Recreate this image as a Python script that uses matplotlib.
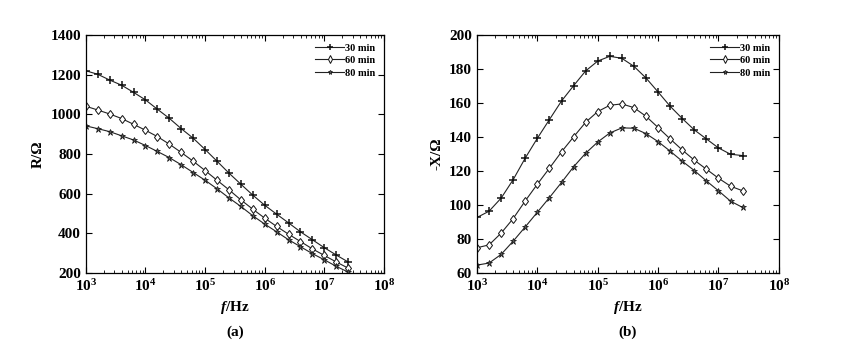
import numpy as np
import matplotlib
matplotlib.use('Agg')
import matplotlib.pyplot as plt
from matplotlib.ticker import LogLocator, FuncFormatter, MultipleLocator

plt.rcParams['font.family'] = 'Liberation Serif'
plt.rcParams['font.weight'] = 'bold'
plt.rcParams['mathtext.fontset'] = 'custom'
plt.rcParams['mathtext.rm'] = 'Liberation Serif:bold'
plt.rcParams['mathtext.bf'] = 'Liberation Serif:bold'
plt.rcParams['mathtext.it'] = 'Liberation Serif:bold:italic'

# frequency sweep, 5 points per decade from 1 kHz
freq_exp = [3.0, 3.2, 3.4, 3.6, 3.8, 4.0, 4.2, 4.4, 4.6, 4.8, 5.0, 5.2,
            5.4, 5.6, 5.8, 6.0, 6.2, 6.4, 6.6, 6.8, 7.0, 7.2, 7.4]
freq = [10 ** e for e in freq_exp]

labels = ['30 min', '60 min', '80 min']

# resistance R (ohm)
r_30 = [1220, 1202, 1173, 1147, 1111, 1073, 1026, 980, 928, 880, 823, 764,
        704, 648, 593, 542, 497, 453, 408, 368, 328, 291, 256]
r_60 = [1041, 1022, 1002, 979, 950, 920, 888, 850, 808, 764, 717, 668,
        620, 569, 522, 477, 435, 396, 359, 322, 289, 256, 225]
r_80 = [942, 928, 913, 892, 871, 843, 813, 782, 746, 707, 668, 625,
        579, 536, 489, 447, 408, 368, 333, 298, 267, 234, 205]

# reactance -X (ohm)
x_30 = [92.7, 96.4, 104.1, 115.0, 127.7, 139.3, 150.3, 161.2, 170.2, 178.9,
        184.7, 187.5, 186.3, 181.6, 174.7, 166.5, 158.1, 150.9, 144.2, 138.9,
        133.6, 129.9, 129.1]
x_60 = [74.9, 76.6, 83.5, 92.1, 102.5, 112.3, 121.7, 131.3, 140.1, 148.7,
        155.0, 158.7, 159.5, 157.3, 152.2, 145.6, 138.9, 132.4, 126.4, 121.1,
        115.8, 111.1, 108.4]
x_80 = [64.7, 65.9, 71.0, 78.8, 87.2, 95.8, 104.4, 113.3, 122.5, 130.5,
        137.1, 142.4, 145.4, 145.2, 142.0, 137.3, 131.7, 125.8, 120.3, 114.2,
        108.4, 102.3, 98.6]

styles = [dict(marker='+', ms=5.5, mew=1.1, mfc='k'),
          dict(marker='d', ms=4.5, mew=0.7, mfc='white'),
          dict(marker='*', ms=4.5, mew=0.5, mfc='#555555')]

fig = plt.figure(figsize=(8.42, 3.47), dpi=100)
ax1 = fig.add_axes([0.102, 0.213, 0.354, 0.686])
ax2 = fig.add_axes([0.5665, 0.213, 0.3585, 0.686])


def style_axis(ax, ylim, ystep, ylabel, tag):
    ax.set_xscale('log')
    ax.set_xlim(1e3, 1e8)
    ax.set_ylim(*ylim)
    ax.yaxis.set_major_locator(MultipleLocator(ystep))
    ax.xaxis.set_major_locator(LogLocator(base=10, numticks=10))
    ax.xaxis.set_minor_locator(LogLocator(base=10, subs=np.arange(2, 10), numticks=20))
    ax.xaxis.set_major_formatter(FuncFormatter(lambda v, p: r'$10^{%d}$' % round(np.log10(v))))
    ax.tick_params(which='both', direction='in', top=True, right=True, labelsize=11)
    ax.tick_params(which='major', length=4, width=0.8)
    ax.tick_params(which='minor', length=2, width=0.6)
    for s in ax.spines.values():
        s.set_linewidth(0.9)
    ax.set_ylabel(ylabel, fontsize=11, fontweight='bold', labelpad=4)
    ax.set_xlabel(r'$\mathit{f}$/Hz', fontsize=11, fontweight='bold', labelpad=4)
    ax.text(0.5, -0.25, tag, transform=ax.transAxes, ha='center', va='center',
            fontsize=11, fontweight='bold')
    ax.legend(loc='upper right', frameon=False, handlelength=2.8,
              handletextpad=0.1, labelspacing=0.3, borderaxespad=0.4,
              markerscale=0.8, prop={'weight': 'bold', 'size': 7.5})


for ys, lab, st in zip([r_30, r_60, r_80], labels, styles):
    ax1.plot(freq, ys, color='#222222', lw=0.8, mec='#111111', label=lab, **st)
for ys, lab, st in zip([x_30, x_60, x_80], labels, styles):
    ax2.plot(freq, ys, color='#222222', lw=0.8, mec='#111111', label=lab, **st)

style_axis(ax1, (200, 1400), 200, 'R/Ω', '(a)')
style_axis(ax2, (60, 200), 20, '-X/Ω', '(b)')

fig.savefig('out.png', dpi=100)
